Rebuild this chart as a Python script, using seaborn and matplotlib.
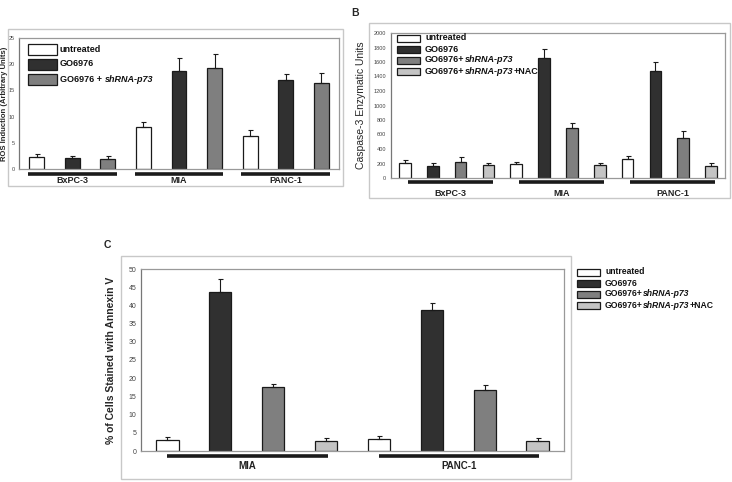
import numpy as np
import pandas as pd
import matplotlib
matplotlib.use('Agg')
import matplotlib.pyplot as plt
from matplotlib.patches import Rectangle
from matplotlib.offsetbox import AnchoredOffsetbox, HPacker, VPacker, TextArea, DrawingArea
import seaborn as sns

# ---- data ----
treat_a = ['untreated', 'GO6976', 'GO6976 + shRNA-p73']
groups_a = ['BxPC-3', 'MIA', 'PANC-1']
ros_mean = [2.2, 2.1, 1.9, 8.1, 18.7, 19.2, 6.3, 17.0, 16.4]
ros_err = [0.7, 0.3, 0.5, 0.9, 2.4, 2.7, 1.1, 1.1, 2.0]

treat_b = ['untreated', 'GO6976', 'GO6976+shRNA-p73', 'GO6976+shRNA-p73+NAC']
groups_b = ['BxPC-3', 'MIA', 'PANC-1']
casp_mean = [211, 170, 220, 175, 189, 1660, 694, 175, 267, 1480, 552, 170]
casp_err = [37, 32, 65, 32, 36, 119, 60, 36, 32, 124, 96, 41]

groups_c = ['MIA', 'PANC-1']
annex_mean = [3.0, 43.7, 17.7, 2.85, 3.2, 38.7, 16.7, 2.7]
annex_err = [0.85, 3.5, 0.8, 0.75, 1.0, 2.0, 1.3, 0.9]

colors4 = ['#ffffff', '#303030', '#7f7f7f', '#c4c4c4']

# legend labels split into (text, style) pieces so shRNA-p73 can be italic
leg_a = [[('untreated', 'normal')], [('GO6976', 'normal')],
         [('GO6976 +', 'normal'), ('shRNA-p73', 'italic')]]
leg_b = [[('untreated', 'normal')], [('GO6976', 'normal')],
         [('GO6976+', 'normal'), ('shRNA-p73', 'italic')],
         [('GO6976+', 'normal'), ('shRNA-p73', 'italic'), ('+NAC', 'normal')]]

sns.set_style('white')
plt.rcParams['font.family'] = ['Liberation Sans', 'DejaVu Sans']

W, H = 732, 482
fig = plt.figure(figsize=(W / 100, H / 100), dpi=100)


def box(x0, y0, x1, y1):
    return [x0 / W, 1 - y1 / H, (x1 - x0) / W, (y1 - y0) / H]


def make_df(groups, treats, means):
    rows = []
    k = 0
    for g in groups:
        for t in treats:
            rows.append({'bar': f'{g}|{t}', 'treat': t, 'value': means[k]})
            k += 1
    return pd.DataFrame(rows)


def draw_panel(ax, groups, treats, means, errs, ylim, ystep, tick_fs, grp_fs,
               line_y, label_y, lo, hi, tick_pad=1.5):
    df = make_df(groups, treats, means)
    pal = dict(zip(treats, colors4[:len(treats)]))
    sns.barplot(data=df, x='bar', y='value', hue='treat', hue_order=treats,
                palette=pal, dodge=False, width=0.42, edgecolor='#1a1a1a',
                linewidth=0.9, legend=False, ax=ax, order=list(df['bar']))
    n = len(df)
    x = np.arange(n)
    ax.errorbar(x, df['value'], yerr=[np.zeros(n), errs], fmt='none',
                ecolor='#1a1a1a', elinewidth=0.8, capsize=1.8, capthick=0.8)
    ax.set_xlim(-0.5, n - 0.5)
    ax.set_ylim(*ylim)
    ax.set_yticks(np.arange(ylim[0], ylim[1] + 1, ystep))
    ax.set_xticks(np.arange(n + 1) - 0.5)
    ax.set_xticklabels([])
    ax.set_xlabel('')
    ax.tick_params(axis='both', direction='out', length=2, width=0.6,
                   color='#888888', labelsize=tick_fs, labelcolor='#444444', pad=tick_pad)
    for s in ax.spines.values():
        s.set_color('#999999')
        s.set_linewidth(0.9)
    ax.spines['left'].set_color('#777777')
    trans = ax.get_xaxis_transform()
    m = len(treats)
    for gi, g in enumerate(groups):
        x0 = gi * m + lo
        x1 = gi * m + m - 1 + hi
        ax.plot([x0, x1], [line_y, line_y], color='#1a1a1a', lw=2.6,
                transform=trans, clip_on=False, solid_capstyle='butt')
        ax.text((x0 + x1) / 2, label_y, g, transform=trans, ha='center',
                va='center', fontsize=grp_fs, fontweight='bold', color='#222222')


def legend_box(entries, colors, fs, pw, ph, row_h, gap, x_px, y_px, part_sep):
    # pixel sizes -> points (dpi 100)
    k = 0.72
    rows = []
    for parts, c in zip(entries, colors):
        da = DrawingArea(pw * k, row_h * k, 0, 0)
        da.add_artist(Rectangle((0, (row_h - ph) / 2 * k), pw * k, ph * k,
                                facecolor=c, edgecolor='#1a1a1a', linewidth=0.9))
        texts = [TextArea(s, textprops=dict(fontsize=fs, fontweight='bold',
                                            fontstyle=st, color='#111111'))
                 for s, st in parts]
        label = HPacker(children=texts, align='baseline', pad=0, sep=part_sep)
        rows.append(HPacker(children=[da, label], align='center', pad=0, sep=gap * k))
    vp = VPacker(children=rows, align='left', pad=0, sep=0)
    ab = AnchoredOffsetbox(loc='upper left', child=vp, pad=0, borderpad=0,
                           frameon=False, bbox_to_anchor=(x_px / W, 1 - y_px / H),
                           bbox_transform=fig.transFigure)
    fig.add_artist(ab)


# ---- panel A ----
axA = fig.add_axes(box(19, 38, 339, 169))
draw_panel(axA, groups_a, treat_a, ros_mean, ros_err, (0, 25), 5, 4.0, 6.5,
           -0.035, -0.09, -0.25, 0.25, tick_pad=1.0)
axA.set_ylabel('ROS Induction (Arbitrary Units)', fontsize=5.5, fontweight='bold')
axA.yaxis.set_label_coords(-0.034, 0.5)
legend_box(leg_a, colors4[:3], 6.5, 29, 11, 15, 3, 28, 41.5, 2.0)

# ---- panel B ----
axB = fig.add_axes(box(391, 33, 725, 178))
draw_panel(axB, groups_b, treat_b, casp_mean, casp_err, (0, 2000), 200, 4.0, 6.5,
           -0.03, -0.105, 0.1, 0.15)
axB.set_ylabel('Caspase-3 Enzymatic Units', fontsize=7.5)
axB.yaxis.set_label_coords(-0.074, 0.5)
legend_box(leg_b, colors4, 6.5, 23, 7, 11, 5, 397, 32.5, 0.25)

# ---- panel C ----
axC = fig.add_axes(box(141, 269, 564, 451))
draw_panel(axC, groups_c, treat_b, annex_mean, annex_err, (0, 50), 5, 5.0, 7,
           -0.028, -0.08, 0.0, 0.03)
axC.set_ylabel('% of Cells Stained with Annexin V', fontsize=7.5, fontweight='bold')
axC.yaxis.set_label_coords(-0.06, 0.5)
legend_box(leg_b, colors4, 6.2, 23, 7, 11, 5, 577, 266.5, 0.25)

# chart-area borders and panel letters
for (x0, y0, x1, y1) in [(8, 29, 343, 186), (369, 23, 730, 198), (121, 256, 571, 479)]:
    fig.add_artist(Rectangle((x0 / W, 1 - y1 / H), (x1 - x0) / W, (y1 - y0) / H,
                             transform=fig.transFigure, fill=False,
                             edgecolor='#c8c8c8', linewidth=1.0))
fig.text(355 / W, 1 - 13 / H, 'B', fontsize=7.5, fontweight='bold', ha='center', va='center')
fig.text(107 / W, 1 - 245 / H, 'C', fontsize=7.5, fontweight='bold', ha='center', va='center')

fig.savefig('out.png', dpi=100)
